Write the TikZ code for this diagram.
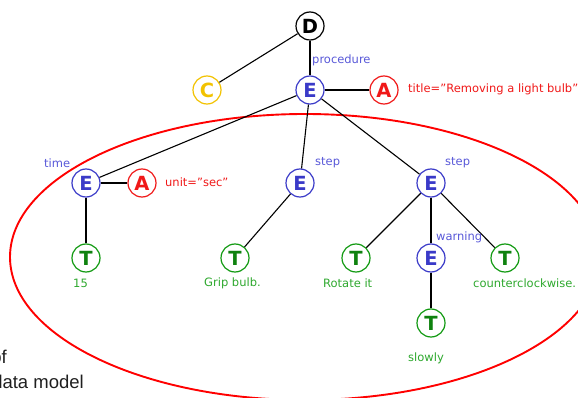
\documentclass[tikz,border=0pt]{standalone}
\usepackage{fontspec}
\setmainfont{DejaVu Sans}
\newfontfamily\slidefont{Liberation Sans}
\definecolor{nblue}{HTML}{3A3AC8}
\definecolor{lblue}{HTML}{5858D8}
\definecolor{nred}{HTML}{F01818}
\definecolor{ngreen}{HTML}{119911}
\definecolor{lgreen}{HTML}{2EA82E}
\definecolor{nyellow}{HTML}{F2C200}
\definecolor{ellred}{HTML}{FF0000}
\tikzset{
  nd/.style={circle, draw, line width=1.2pt, minimum size=28pt, inner sep=0pt,
             font=\fontsize{19.5}{19.5}\selectfont\bfseries},
  enode/.style={nd, draw=nblue, text=nblue},
  anode/.style={nd, draw=nred, text=nred},
  tnode/.style={nd, draw=ngreen, text=ngreen!85!black},
  cnode/.style={nd, draw=nyellow, text=nyellow},
  dnode/.style={nd, draw=black, text=black},
  lab/.style={font=\fontsize{11.5}{12}\selectfont, inner sep=0pt, anchor=west},
  elab/.style={lab, text=lblue},
  alab/.style={lab, text=nred},
  tlab/.style={lab, text=lgreen},
  straight/.style={line width=1.8pt},
  slant/.style={line width=1.1pt},
  slidetext/.style={font=\slidefont\fontsize{18.5}{18.5}\selectfont, text=black!88, inner sep=0pt, anchor=base east},
}
\begin{document}
\begin{tikzpicture}[x=1pt,y=-1pt]
\useasboundingbox (0,0) rectangle (578,398);
% ellipse
\draw[ellred, line width=1.9pt] (305,257) ellipse [x radius=295, y radius=143];
% nodes
\node[dnode] (D) at (310,26) {D};
\node[cnode] (C) at (207,90) {C};
\node[enode] (E1) at (310,90) {E};
\node[anode] (A1) at (384,90) {A};
\node[enode] (Et) at (86,183) {E};
\node[anode] (At) at (142,183) {A};
\node[enode] (Es1) at (300,183) {E};
\node[enode] (Es2) at (431,183) {E};
\node[tnode] (T15) at (86,258) {T};
\node[tnode] (Tg) at (235,258) {T};
\node[tnode] (Tr) at (356,258) {T};
\node[enode] (Ew) at (431,258) {E};
\node[tnode] (Tc) at (505,258) {T};
\node[tnode] (Ts) at (431,323) {T};
% connectors
\draw[slant] (D) -- (C);
\draw[straight] (D) -- (E1);
\draw[straight] (E1) -- (A1);
\draw[slant] (E1) -- (Et);
\draw[slant] (E1) -- (Es1);
\draw[slant] (E1) -- (Es2);
\draw[straight] (Et) -- (At);
\draw[straight] (Et) -- (T15);
\draw[slant] (Es1) -- (Tg);
\draw[slant] (Es2) -- (Tr);
\draw[straight] (Es2) -- (Ew);
\draw[slant] (Es2) -- (Tc);
\draw[straight] (Ew) -- (Ts);
% labels
\node[elab] (lproc) at (312,60) {procedure};
\node[alab] (ltitle) at (408,89) {title="Removing a light bulb"};
\node[elab] (ltime) at (44,163) {time};
\node[alab] (lunit) at (165,182) {unit="sec"};
\node[elab] (lstep1) at (315,163) {step};
\node[elab] (lstep2) at (445,163) {step};
\node[elab] (lwarn) at (436,237) {warning};
\node[tlab] (l15) at (73,283) {15};
\node[tlab] (lgrip) at (204,283) {Grip bulb.};
\node[tlab] (lrot) at (323,283) {Rotate it};
\node[tlab] (lcc) at (473,283) {counterclockwise.};
\node[tlab] (lslow) at (408,358) {slowly};
% slide text cut at left edge
\node[slidetext] (sof) at (7,363) {of};
\node[slidetext] (sdm) at (84,388) {data model};
\end{tikzpicture}
\end{document}
